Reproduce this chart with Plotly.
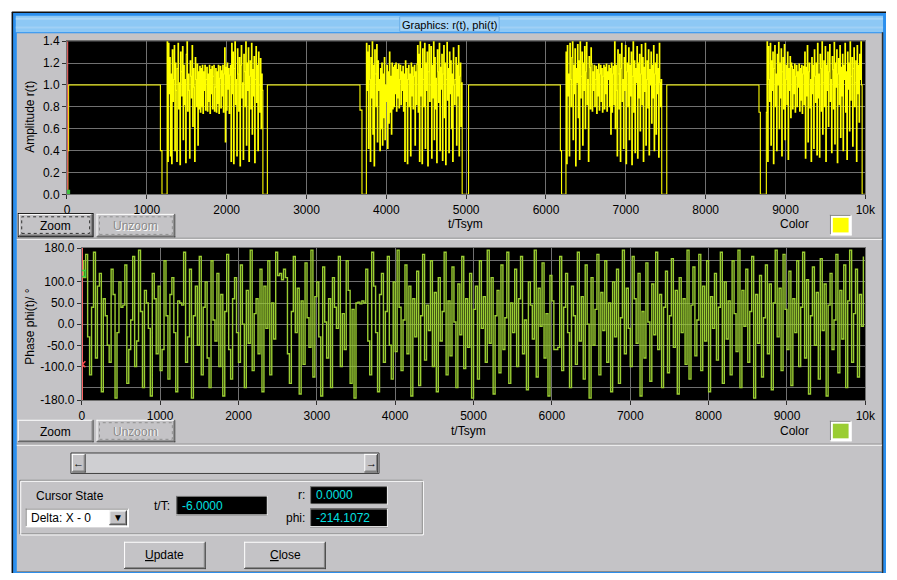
import numpy as np
import plotly.graph_objects as go

W, H = 897, 580

# ---------------- data ----------------
x_ticks = [0, 1000, 2000, 3000, 4000, 5000, 6000, 7000, 8000, 9000, 10000]
amp_ticks = [0.0, 0.2, 0.4, 0.6, 0.8, 1.0, 1.2, 1.4]
phase_ticks = [-180, -100, -50, 0, 50, 100, 180]
phase_extra_grid = [-150, 150]

# flat (pilot / guard) segments of r(t): breakpoints and values
seg0_t = [0, 10, 20, 1170, 1190]
seg0_r = [0.0, 0.4, 1.0, 0.4, 0.0]
seg1_t = [2454, 2510, 3670, 3695]
seg1_r = [0.0, 1.0, 0.77, 0.0]
seg2_t = [4950, 5030, 6180, 6195]
seg2_r = [0.0, 1.0, 0.4, 0.0]
seg3_t = [7450, 7513, 8668, 8685]
seg3_r = [0.0, 1.0, 0.75, 0.0]
seg4_t = [9960, 10000]
seg4_r = [0.0, 0.0]

burst_start = [1254, 3750, 6250, 8760]
burst_dt = 8

burst1 = [1.40,0.30,1.38,0.92,1.25,0.35,1.10,0.28,1.32,0.85,1.05,1.36,0.40,1.20,0.95,0.30,1.15,1.38,0.78,1.02,
          0.27,1.30,1.12,0.90,1.35,0.50,1.18,0.82,1.05,0.29,1.28,1.40,0.76,1.10,0.95,0.33,1.22,1.08,0.88,1.36,
          0.62,1.15,0.98,0.30,1.25,1.05,0.80,1.19,0.45,1.12,
          0.78,1.17,0.75,1.15,0.80,1.18,0.74,1.12,0.95,1.18,0.77,1.05,1.16,0.76,1.10,0.85,1.18,0.74,1.14,0.92,
          1.17,0.78,1.08,1.18,0.76,0.98,1.15,0.75,1.12,0.83,1.18,0.74,1.06,1.17,0.79,1.13,0.90,1.18,0.75,1.10,
          1.34,0.48,1.16,0.77,1.20,0.96,1.15,0.74,1.09,1.18,
          0.30,1.38,0.92,1.30,0.28,1.15,1.40,0.82,1.05,0.35,1.33,1.10,0.76,1.25,0.26,1.18,1.36,0.88,1.02,0.32,
          1.28,1.12,0.80,1.40,0.45,1.20,0.95,1.34,0.30,1.08,1.22,0.78,1.38,0.55,1.14,0.90,1.26,0.29,1.05,1.35,
          0.84,1.18,0.40,1.30,1.00,0.75,1.24,0.60,1.10,0.95]
burst2 = [1.38,0.95,1.30,0.42,1.36,1.05,0.30,1.25,0.88,1.40,0.55,1.18,0.26,1.32,1.10,0.80,1.37,0.48,1.22,0.95,
          1.05,0.40,1.15,0.60,1.20,0.45,1.10,0.70,1.25,0.50,1.00,0.85,1.18,0.42,1.12,0.65,1.30,0.75,1.08,0.55,
          1.20,0.78,1.16,0.80,1.18,0.92,1.20,0.76,1.14,0.88,1.19,0.79,1.05,1.18,0.82,1.12,0.95,1.17,0.76,1.10,
          0.30,1.22,0.85,1.15,0.28,1.05,1.18,0.80,1.10,0.35,1.20,0.90,1.16,0.78,1.08,1.18,0.45,1.12,0.82,1.19,
          1.36,0.75,1.28,0.30,1.40,0.90,1.15,0.28,1.33,1.05,0.80,1.38,0.42,1.20,0.95,1.30,0.26,1.12,1.37,0.85,
          1.00,1.35,0.33,1.18,0.88,1.40,0.50,1.25,0.78,1.06,0.29,1.32,1.12,0.84,1.38,0.40,1.16,0.96,1.28,0.31,
          1.10,1.36,0.70,1.20,0.27,1.05,1.39,0.86,1.15,0.38,1.30,0.92,1.22,0.60,1.10,0.30,1.34,1.00,0.82,1.05,
          1.25,0.45,1.18,0.90,1.36,0.35,1.08,1.20,0.62,1.02]
burst3 = [1.30,0.28,1.36,0.90,1.10,0.35,1.38,1.05,0.80,1.25,1.40,0.50,1.18,0.92,1.33,0.26,1.15,1.02,1.37,0.70,
          1.22,0.32,1.40,0.88,1.08,1.30,0.45,1.20,0.95,1.35,0.60,1.12,1.39,0.82,1.05,0.30,1.26,1.16,0.78,1.34,
          1.19,0.76,1.12,0.95,1.18,0.80,1.05,1.17,0.74,1.14,0.90,1.19,0.77,1.10,1.18,0.85,1.15,0.75,1.08,1.18,
          0.78,1.16,0.92,1.19,0.76,1.12,1.05,1.18,0.80,1.15,0.55,1.20,0.75,1.10,1.17,0.82,1.40,0.60,1.18,0.95,
          0.35,1.32,1.10,0.78,1.28,0.30,1.15,1.38,0.85,1.05,0.42,1.25,0.95,1.36,0.28,1.12,1.20,0.80,1.34,0.50,
          1.18,0.90,1.30,0.27,1.08,1.40,0.75,1.22,0.38,1.15,1.02,1.35,0.33,1.20,0.88,1.28,0.58,1.10,1.37,0.82,
          1.25,0.30,1.16,0.94,1.38,0.45,1.05,1.22,0.79,1.32,0.36,1.14,1.00,1.30,0.65,1.18,0.88,1.36,0.40,1.10,
          1.20,0.55,1.28,0.92,1.15,0.34,1.38,1.02,0.80,1.05]
burst4 = [0.75,1.40,0.30,1.35,1.05,0.85,1.38,0.45,1.22,0.95,1.30,0.28,1.15,1.36,0.80,1.10,0.40,1.28,1.00,1.39,
          0.60,1.20,0.88,1.33,0.35,1.12,1.25,0.78,1.37,0.50,1.05,1.18,0.82,1.30,0.32,1.15,0.95,1.26,0.70,1.20,
          1.17,0.78,1.14,0.92,1.19,0.75,1.08,1.18,0.80,1.12,0.98,1.19,0.76,1.15,0.86,1.18,0.74,1.10,1.17,0.82,
          1.30,0.33,1.16,0.90,1.36,0.48,1.12,1.20,0.79,1.05,0.30,1.25,0.92,1.18,0.42,1.32,1.08,0.84,1.20,0.36,
          1.38,0.88,1.10,0.34,1.28,1.15,0.76,1.40,0.55,1.02,1.22,0.80,1.35,0.30,1.18,0.95,1.30,0.62,1.12,1.37,
          0.85,1.05,0.38,1.26,1.14,0.78,1.39,0.46,1.20,0.98,1.32,0.29,1.10,1.24,0.82,1.36,0.52,1.16,0.90,1.28,
          0.40,1.18,1.05,1.38,0.75,1.12,0.32,1.30,0.96,1.20,0.58,1.40,0.86,1.08,1.25,0.44,1.15,1.34,0.80,1.02,
          1.22,0.30,1.36,0.92,1.18,0.66,1.28,1.05,1.40,1.00]

phase_dt = 25
phase = [150,110,165,-30,-120,40,170,-80,90,120,-160,60,20,-50,-90,130,70,-175,-20,100,
         40,45,140,-140,-60,10,160,-100,-40,175,30,-150,80,50,-10,-170,120,60,-70,90,
         -110,-60,150,20,-130,70,110,-20,-160,55,50,45,170,-90,-30,130,-175,20,90,-50,
         160,-120,40,100,-80,-150,150,10,-40,120,-100,70,-170,30,165,-60,-130,60,110,-20,
         -90,140,0,-150,80,-45,175,-110,25,60,-70,130,-160,90,-10,150,-120,50,-35,170,
         115,120,105,130,110,-70,-140,30,160,-20,85,-165,55,-95,145,15,-55,175,-125,65,
         100,-30,-170,135,5,-80,60,-150,110,40,-10,160,-100,25,-60,150,80,-140,35,-175,
         50,52,48,55,50,130,-40,-120,170,90,-20,-160,70,120,-90,30,160,-50,-130,100,
         -65,175,40,-110,10,140,-70,90,-170,60,-30,125,-145,20,165,-85,45,-15,150,-100,
         75,-160,110,-40,30,170,-120,55,-75,135,5,-150,95,-25,160,-105,60,-55,120,-175,
         35,90,-130,150,-10,65,-90,175,-45,110,-165,20,80,-115,140,-60,15,170,-140,50,
         -20,130,-100,60,160,-70,10,-155,100,45,-35,175,-125,85,-5,145,-80,25,-170,115,
         55,-60,-60,-55,160,-110,40,120,-20,-150,90,20,-95,170,-40,65,-130,140,0,-175,
         110,-50,35,165,-120,75,-15,150,-90,50,-160,100,-30,130,-140,15,175,-70,85,-10,
         -100,160,60,-45,120,-170,30,-80,145,5,-135,95,-25,170,-60,70,-150,40,125,-115,
         20,155,-55,80,-165,110,-20,60,-95,175,-130,45,135,-75,10,165,-110,90,-40,150,
         -160,65,-10,120,-85,40,170,-140,100,-35,55,-120,150,25,-65,175,-150,80,-5,130,
         -90,30,160,-175,70,-45,115,-125,15,140,-70,95,-155,50,175,-30,85,-110,165,35,
         -60,125,-145,60,-20,150,-100,40,170,-80,105,-165,20,135,-50,75,-130,155,-15,95,
         -170,45,120,-60,10,165,-115,80,-35,140,-150,55,175,-90,25,130,-125,70,-5,160]

cursor_t = 8
cursor_r = 0.02
cursor_phi_o = 120
cursor_phi_x = -95

# ---------------- build series ----------------
segs_t = [seg0_t, seg1_t, seg2_t, seg3_t, seg4_t]
segs_r = [seg0_r, seg1_r, seg2_r, seg3_r, seg4_r]
bursts = [burst1, burst2, burst3, burst4]
amp_t, amp_r = [], []
for i in range(4):
    amp_t += segs_t[i]; amp_r += segs_r[i]
    amp_t += [burst_start[i] + k * burst_dt for k in range(len(bursts[i]))]
    amp_r += bursts[i]
amp_t += segs_t[4]; amp_r += segs_r[4]
phase_t = [k * phase_dt for k in range(len(phase))]

# ---------------- helpers ----------------
shapes, annos = [], []
GREY = '#c4c3c6'
FONT = 'Liberation Sans'

def R(x0, y0, x1, y1, fill=None, line=None, lw=1, dash=None):
    d = dict(type='rect', xref='paper', yref='paper', x0=x0 / W, x1=x1 / W,
             y0=1 - y1 / H, y1=1 - y0 / H, layer='below',
             line=dict(color=line if line else 'rgba(0,0,0,0)', width=lw if line else 0))
    if dash:
        d['line']['dash'] = dash
    if fill:
        d['fillcolor'] = fill
    shapes.append(d)

def L(x0, y0, x1, y1, color, lw=1):
    shapes.append(dict(type='line', xref='paper', yref='paper', x0=x0 / W, x1=x1 / W,
                       y0=1 - y0 / H, y1=1 - y1 / H, layer='below',
                       line=dict(color=color, width=lw)))

def T(x, y, text, size=12, color='black', xa='left', ya='middle', angle=0):
    annos.append(dict(x=x / W, y=1 - y / H, xref='paper', yref='paper', text=text,
                      showarrow=False, xanchor=xa, yanchor=ya, textangle=angle,
                      font=dict(family=FONT, size=size, color=color)))

def raised(x0, y0, x1, y1):
    R(x0, y0, x1, y1, fill=GREY)
    L(x0, y0 + 0.5, x1, y0 + 0.5, 'white')
    L(x0 + 0.5, y0, x0 + 0.5, y1, 'white')
    L(x0, y1 - 0.5, x1, y1 - 0.5, '#404040')
    L(x1 - 0.5, y0, x1 - 0.5, y1, '#404040')
    L(x0 + 1, y1 - 1.5, x1 - 1, y1 - 1.5, '#808080')
    L(x1 - 1.5, y0 + 1, x1 - 1.5, y1 - 1, '#808080')

def sunken(x0, y0, x1, y1, fill):
    R(x0, y0, x1, y1, fill=fill)
    L(x0, y0 + 0.5, x1, y0 + 0.5, '#808080')
    L(x0 + 0.5, y0, x0 + 0.5, y1, '#808080')
    L(x0, y1 - 0.5, x1, y1 - 0.5, 'white')
    L(x1 - 0.5, y0, x1 - 0.5, y1, 'white')

def etched_h(y, x0, x1):
    L(x0, y, x1, y, '#808080')
    L(x0, y + 1, x1, y + 1, 'white')

# ---------------- window chrome ----------------
R(9, 5, 897, 580, fill='#2b8fee')
L(9, 5.5, 897, 5.5, '#101010', 1.5)
L(9.5, 5, 9.5, 580, '#101010', 1.5)
R(13, 9, 894, 26, fill='#8dc8f5')
L(13, 12, 894, 12, '#a9d6f8', 2)
L(13, 21, 894, 21, '#a0d0f6', 2)
R(14, 27, 893, 578, fill=GREY)
L(893.5, 26, 893.5, 580, '#303030', 1.5)
L(14, 578.5, 893, 578.5, '#8a8a8a', 1)
R(403, 10, 504, 25, fill='#a6d4f7', line='#6aaee8')
T(453.5, 18, 'Graphics: r(t), phi(t)', size=11, xa='center')

# plot area backgrounds (the paper shapes lie above plot_bgcolor)
R(65, 35, 876, 192, fill='black')
R(80, 247, 876, 403, fill='black')

etched_h(237, 14, 893)
etched_h(448, 14, 893)

# ---------- top panel controls ----------
R(15, 211, 92, 236, fill='black')
raised(16, 212, 91, 235)
R(19, 215, 88, 232, line='#303030', lw=1, dash='dot')
T(53.5, 224, 'Zoom', size=12, xa='center')
raised(95, 212, 175, 236)
R(98, 215, 172, 233, line='#909090', lw=1, dash='dot')
T(136, 225, 'Unzoom', size=12, color='white', xa='center')
T(135, 224, 'Unzoom', size=12, color='#8a8a8a', xa='center')
T(470, 222, 't/Tsym', size=12, xa='center')
T(804, 222, 'Color', size=12, xa='center')
sunken(840, 213, 862, 234, '#ffffff')
R(843, 216, 859, 231, fill='#ffff00')

# ---------- bottom plot controls ----------
raised(15, 423, 92, 446)
T(53.5, 435, 'Zoom', size=12, xa='center')
raised(95, 423, 175, 446)
R(98, 426, 172, 443, line='#909090', lw=1, dash='dot')
T(136, 436, 'Unzoom', size=12, color='white', xa='center')
T(135, 435, 'Unzoom', size=12, color='#8a8a8a', xa='center')
T(473, 434, 't/Tsym', size=12, xa='center')
T(804, 434, 'Color', size=12, xa='center')
sunken(840, 424, 862, 445, '#ffffff')
R(843, 427, 859, 442, fill='#9acd32')

# ---------- scrollbar ----------
R(69, 457, 382, 478, fill='#cfcfd2', line='#404040', lw=1)
raised(70, 458, 84, 477)
raised(367, 458, 381, 477)
T(77, 467.5, '<b>\u2190</b>', size=11, xa='center')
T(374, 467.5, '<b>\u2192</b>', size=11, xa='center')

# ---------- cursor group ----------
R(17, 485, 426, 540, line='#808080', lw=1)
R(18, 486, 427, 541, line='white', lw=1)
T(31, 501, 'Cursor State', size=12)
sunken(23, 514, 128, 533, 'white')
raised(108, 516, 126, 531)
T(117, 523.5, '\u25bc', size=10, xa='center')
T(26, 523.5, 'Delta: X - 0', size=12)
T(172, 511, 't/T:', size=12, xa='right')
sunken(176, 501, 269, 521, 'black')
T(180, 511, '-6.0000', size=12, color='#00e0e0')
T(309, 500, 'r:', size=12, xa='right')
sunken(312, 491, 391, 510, 'black')
T(316, 500.5, '0.0000', size=12, color='#00e0e0')
T(309, 524, 'phi:', size=12, xa='right')
sunken(312, 514, 391, 533, 'black')
T(316, 524, '-214.1072', size=12, color='#00e0e0')

raised(123, 548, 206, 576)
T(164.5, 562, "<span style='text-decoration:underline'>U</span>pdate", size=12, xa='center')
raised(245, 548, 328, 576)
T(286.5, 562, "<span style='text-decoration:underline'>C</span>lose", size=12, xa='center')

T(28, 113, 'Amplitude r(t)', size=12, xa='center', angle=-90)
T(28, 328, 'Phase phi(t)/ \u00b0', size=12, xa='center', angle=-90)

# ---------------- traces ----------------
fig = go.Figure()
fig.add_trace(go.Scatter(x=amp_t, y=amp_r, mode='lines', line=dict(color='#ffff00', width=1.1, shape='hv'),
                         xaxis='x', yaxis='y', hoverinfo='skip'))
fig.add_trace(go.Scatter(x=[cursor_t, cursor_t], y=[amp_ticks[0], amp_ticks[-1]], mode='lines',
                         line=dict(color='#e06060', width=1.2), xaxis='x', yaxis='y', hoverinfo='skip'))
fig.add_trace(go.Scatter(x=[cursor_t], y=[cursor_r], mode='markers',
                         marker=dict(color='#40c040', size=5, symbol='square'), xaxis='x', yaxis='y'))
fig.add_trace(go.Scatter(x=phase_t, y=phase, mode='lines', line=dict(color='#9acd32', width=1.4, shape='hv'),
                         xaxis='x2', yaxis='y2', hoverinfo='skip'))
fig.add_trace(go.Scatter(x=[cursor_t, cursor_t], y=[-180, 180], mode='lines',
                         line=dict(color='#ff6a6a', width=1.2), xaxis='x2', yaxis='y2', hoverinfo='skip'))
fig.add_trace(go.Scatter(x=[cursor_t, cursor_t], y=[cursor_phi_o, cursor_phi_x], mode='markers',
                         marker=dict(color=['#40d040', '#ff5050'], size=6, symbol=['square-open', 'x-thin-open'],
                                     line=dict(color=['#40d040', '#ff5050'], width=1.5)),
                         xaxis='x2', yaxis='y2'))

axis_common = dict(showgrid=True, gridcolor='#707070', gridwidth=1, zeroline=False,
                   ticks='outside', ticklen=4, tickcolor='#303030', showline=True,
                   linecolor='#707070', linewidth=1, mirror=True,
                   tickfont=dict(family=FONT, size=12, color='black'))

fig.update_layout(
    width=W, height=H, margin=dict(l=0, r=0, t=0, b=0, pad=0), autosize=False,
    paper_bgcolor='white', plot_bgcolor='black', showlegend=False, hovermode=False,
    xaxis=dict(domain=[65 / W, 876 / W], range=[0, 10000], tickvals=x_ticks, anchor='y', **axis_common),
    yaxis=dict(domain=[1 - 192 / H, 1 - 35 / H], range=[0, 1.4], tickvals=amp_ticks,
               ticktext=[f'{v:.1f}' for v in amp_ticks], anchor='x', **axis_common),
    xaxis2=dict(domain=[80 / W, 876 / W], range=[0, 10000], tickvals=x_ticks, anchor='y2', **axis_common),
    yaxis2=dict(domain=[1 - 403 / H, 1 - 247 / H], range=[-180, 180], tickvals=phase_ticks,
                ticktext=[f'{v:.1f}' for v in phase_ticks], anchor='x2',
                minor=dict(tickvals=phase_extra_grid, showgrid=True, gridcolor='#707070', ticklen=0),
                **axis_common),
    shapes=shapes, annotations=annos,
)

fig.write_html('out.html')
